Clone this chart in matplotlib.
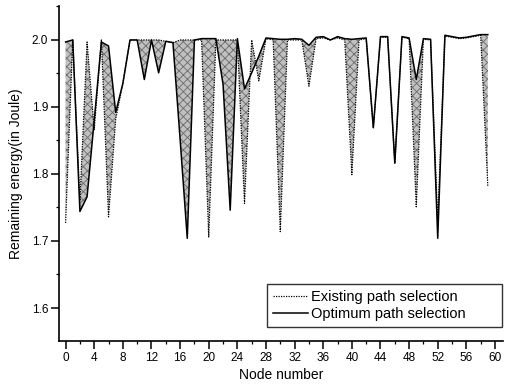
import matplotlib
matplotlib.use("Agg")
import matplotlib.pyplot as plt
from matplotlib.ticker import MultipleLocator
import numpy as np

plt.rcParams['font.family'] = ['Liberation Sans', 'DejaVu Sans']
plt.rcParams['hatch.color'] = '#6a6a6a'
plt.rcParams['hatch.linewidth'] = 0.6

nodes = list(range(60))
existing = [1.727, 2.000, 1.760, 1.997, 1.866, 2.000, 1.736, 1.882, 1.935, 2.000,
            2.000, 2.000, 2.000, 2.000, 1.998, 1.996, 2.000, 2.000, 2.000, 2.000,
            1.706, 2.000, 2.000, 2.000, 2.000, 1.756, 2.000, 1.939, 2.002, 2.000,
            1.714, 2.000, 2.000, 2.000, 1.931, 2.002, 2.003, 2.000, 2.003, 2.000,
            1.799, 2.000, 2.002, 1.869, 2.004, 2.004, 1.816, 2.004, 2.002, 1.751,
            2.001, 2.000, 1.730, 2.006, 2.004, 2.002, 2.003, 2.005, 2.007, 1.781]
optimum = [1.997, 2.000, 1.744, 1.766, 1.880, 1.997, 1.991, 1.892, 1.935, 2.000,
           2.000, 1.941, 2.000, 1.951, 1.998, 1.996, 1.852, 1.704, 2.000, 2.002,
           2.002, 2.002, 1.934, 1.746, 2.002, 1.927, 1.951, 1.976, 2.003, 2.002,
           2.001, 2.001, 2.002, 2.001, 1.992, 2.004, 2.005, 2.000, 2.005, 2.002,
           2.001, 2.002, 2.003, 1.869, 2.005, 2.005, 1.816, 2.005, 2.003, 1.941,
           2.002, 2.001, 1.704, 2.007, 2.005, 2.003, 2.004, 2.006, 2.008, 2.008]
legend_labels = ["Existing path selection", "Optimum path selection"]

fig = plt.figure(figsize=(5.10, 3.86), dpi=100)
ax = fig.add_axes([0.116, 0.117, 0.870, 0.868])

x = np.array(nodes)
ax.fill_between(x, existing, optimum, facecolor='#c0c0c0', edgecolor='#6a6a6a',
                hatch='xxxx', linewidth=0, zorder=1)
ax.plot(x, existing, linestyle=(0, (1, 1)), color='black', linewidth=0.9,
        label=legend_labels[0], zorder=3)
ax.plot(x, optimum, linestyle='-', color='black', linewidth=1.1,
        label=legend_labels[1], zorder=4)

ax.set_xlim(-0.9, 61.1)
ax.set_ylim(1.551, 2.051)
ax.xaxis.set_major_locator(MultipleLocator(4))
ax.xaxis.set_minor_locator(MultipleLocator(2))
ax.yaxis.set_minor_locator(MultipleLocator(0.05))
ax.set_yticks([1.6, 1.7, 1.8, 1.9, 2.0])
ax.set_yticklabels(["1.6", "1.7", "1.8", "1.9", "2.0"])

for s in ['top', 'right']:
    ax.spines[s].set_visible(False)
for s in ['left', 'bottom']:
    ax.spines[s].set_linewidth(1.2)

ax.tick_params(axis='both', which='major', direction='out', length=5.5, width=1.1,
               labelsize=8.5, pad=2.5)
ax.tick_params(axis='both', which='minor', direction='out', length=2.5, width=0.9)

ax.set_xlabel("Node number", fontsize=10, labelpad=3)
ax.set_ylabel("Remaining energy(in Joule)", fontsize=10, labelpad=6)

leg = ax.legend(loc='lower left', bbox_to_anchor=(0.4677, 0.042, 0.5296, 0.1245),
                mode='expand', fontsize=10.5,
                frameon=True, fancybox=False, edgecolor='black',
                handlelength=2.4, handletextpad=0.25, borderpad=0.4,
                labelspacing=0.2, borderaxespad=0.0)
leg.get_frame().set_linewidth(1.0)

fig.savefig("out.png", dpi=100)
